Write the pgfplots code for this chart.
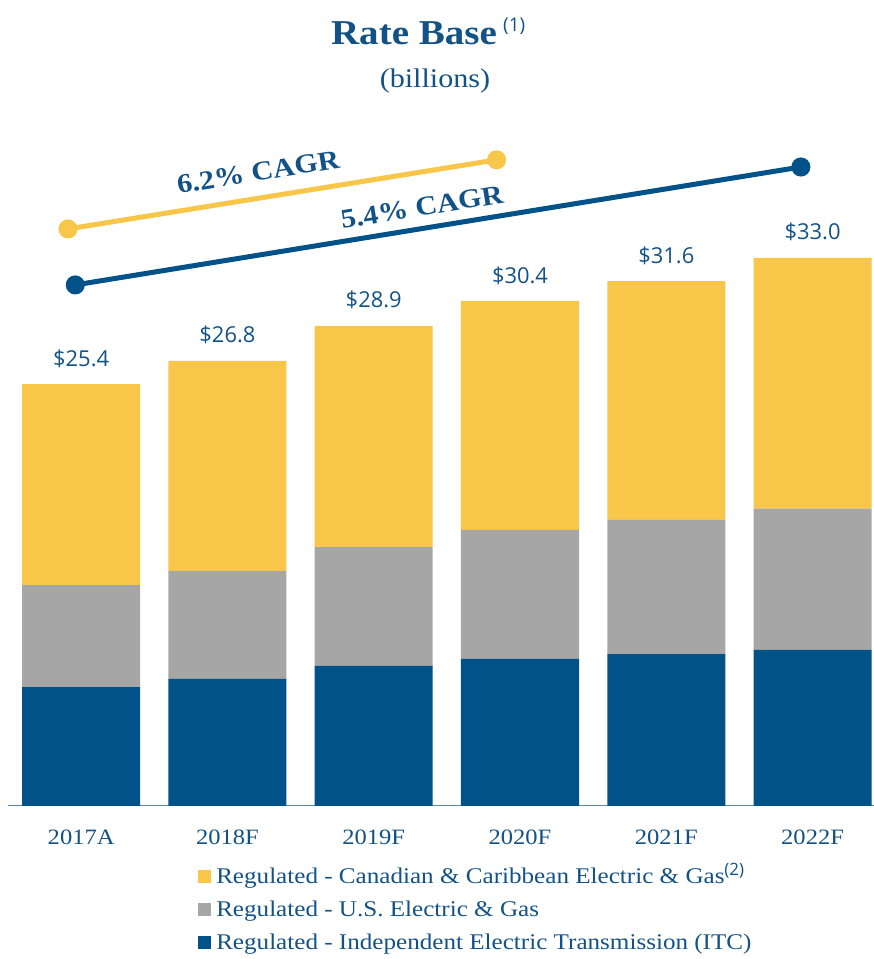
\documentclass[border=0pt]{standalone}
\usepackage{fontspec}
\setmainfont{Liberation Serif}[FakeStretch=1.12]
\newfontfamily\valfont{Open Sans}
\usepackage{pgfplots}
\pgfplotsset{compat=1.18}
\definecolor{FBlue}{RGB}{0,82,136}
\definecolor{FYellow}{RGB}{248,198,73}
\definecolor{FGray}{RGB}{166,166,166}
\definecolor{FText}{RGB}{18,82,135}

\begin{document}
\begin{tikzpicture}[x=1bp,y=1bp]
\path[use as bounding box] (0,0) rectangle (874,959);

% titles
\node[anchor=base, font=\fontsize{35}{40}\selectfont\bfseries, text=FText, inner sep=0pt] at (414,914) {Rate Base};
\node[anchor=base west, font=\valfont\fontsize{19}{22}\selectfont, text=FText, inner sep=0pt] at (503,927) {(1)};
\node[anchor=base, font=\fontsize{27}{30}\selectfont, text=FText, inner sep=0pt] at (435,871) {(billions)};

\begin{axis}[
    at={(8bp,153bp)}, anchor=south west,
    width=866bp, height=664.4bp, scale only axis,
    xmin=-0.5, xmax=5.42, ymin=0, ymax=40,
    ybar stacked, bar width=0.807,
    axis x line=bottom, axis y line=none,
    x axis line style={-, draw=FText!70, line width=1bp},
    xtick={0,1,2,3,4,5},
    xticklabels={2017A,2018F,2019F,2020F,2021F,2022F},
    major tick length=0pt,
    xticklabel style={anchor=base, yshift=-39bp, inner sep=0pt,
      font=\fontsize{22}{26}\selectfont, text=FText},
    ytick=\empty,
    clip=false,
    reverse legend,
    legend cell align=left,
    legend image code/.code={\fill[#1] (0bp,-5bp) rectangle (13bp,8bp);},
    legend style={at={(axis description cs:0.216,-0.09)}, anchor=north west,
      draw=none, fill=none, row sep=12bp, column sep=5bp,
      nodes={inner sep=0pt, text height=16bp, text depth=5bp},
      font=\fontsize{22.5}{24}\selectfont, text=FText},
]
\addplot[fill=FBlue, draw=none] coordinates {(0,7.16) (1,7.65) (2,8.43) (3,8.85) (4,9.15) (5,9.40)};
\addplot[fill=FGray, draw=none] coordinates {(0,6.14) (1,6.50) (2,7.16) (3,7.77) (4,8.07) (5,8.50)};
\addplot[fill=FYellow, draw=none] coordinates {(0,12.10) (1,12.65) (2,13.31) (3,13.78) (4,14.38) (5,15.10)};
\legend{Regulated - Independent Electric Transmission (ITC),
        Regulated - U.S. Electric \& Gas,
        Regulated - Canadian \& Caribbean Electric \& Gas\raisebox{8bp}{\valfont\fontsize{17}{19}\selectfont(2)}}
\end{axis}

\begin{axis}[
    at={(8bp,153bp)}, anchor=south west,
    width=866bp, height=664.4bp, scale only axis,
    xmin=-0.5, xmax=5.42, ymin=0, ymax=40,
    hide axis, clip=false,
    /pgf/number format/assume math mode=true,
]
% totals (labels above the bars)
\addplot[draw=none, mark=none,
    nodes near coords={\$\pgfmathprintnumber[fixed,precision=1,fixed zerofill]{\pgfplotspointmeta}},
    every node near coord/.append style={anchor=base, yshift=18bp, inner sep=0pt,
      font=\valfont\fontsize{22}{24}\selectfont, text=FText}]
  coordinates {(0,25.4) (1,26.8) (2,28.9) (3,30.4) (4,31.6) (5,33.0)};
\addplot[FYellow, line width=5bp, mark=*, mark size=7bp, mark options={fill=FYellow, draw=none}]
  coordinates {(-0.09,34.74) (2.84,38.90)};
\addplot[FBlue, line width=5bp, mark=*, mark size=7bp, mark options={fill=FBlue, draw=none}]
  coordinates {(-0.04,31.37) (4.92,38.47)};
\node[rotate=9.1, font=\fontsize{27}{32}\selectfont\bfseries, text=FText, inner sep=0pt]
  at (axis cs:1.21,38.17) {6.2\% CAGR};
\node[rotate=9.2, font=\fontsize{27}{32}\selectfont\bfseries, text=FText, inner sep=0pt]
  at (axis cs:2.33,36.06) {5.4\% CAGR};
\end{axis}
\end{tikzpicture}
\end{document}
